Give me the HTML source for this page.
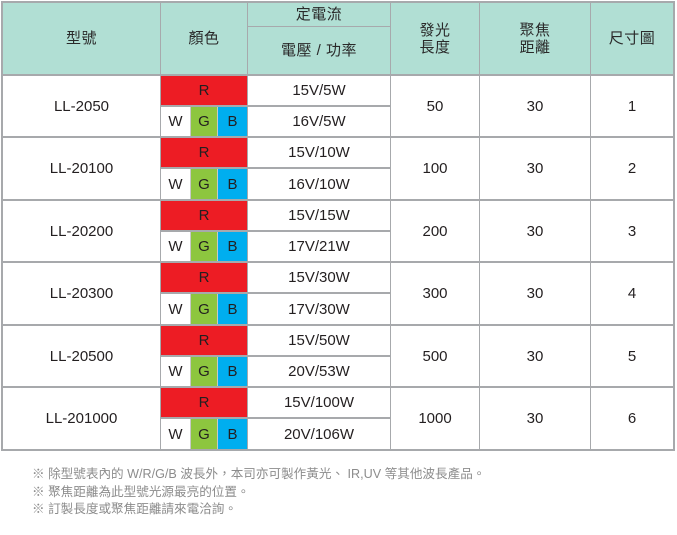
<!DOCTYPE html>
<html><head><meta charset="utf-8">
<style>
html,body{margin:0;padding:0;background:#fff;}
body{width:677px;height:535px;position:relative;overflow:hidden;font-family:"Liberation Sans","Noto Sans CJK TC",sans-serif;}
.c{position:absolute;display:flex;align-items:center;justify-content:center;font-size:15px;color:#231f20;text-align:center;line-height:17px;}
.hd{font-size:15px;letter-spacing:0.5px;color:#2a2a2a;}
.l{position:absolute;background:#a7a9ac;}
.r{background:#ed1c24;}
.g{background:#8dc63f;}
.b{background:#00aeef;}
.w{background:#fff;}
.sep{position:absolute;background:#c8c8c8;width:1px;}
.notes{position:absolute;left:32px;top:466px;font-size:12.6px;line-height:17.5px;color:#8c8c8c;font-family:"Liberation Sans","Noto Sans CJK TC",sans-serif;}
</style></head><body>
<!-- header bg -->
<div style="position:absolute;left:3px;top:3px;width:670px;height:71px;background:#b1dfd4;"></div>
<div class="c hd" style="left:3px;top:3px;width:157px;height:71px;">型號</div>
<div class="c hd" style="left:161px;top:3px;width:86px;height:71px;">顏色</div>
<div class="c hd" style="left:248px;top:3px;width:142px;height:23px;">定電流</div>
<div class="c hd" style="left:248px;top:27px;width:142px;height:47px;">電壓 / 功率</div>
<div class="c hd" style="left:391px;top:3px;width:88px;height:71px;">發光<br>長度</div>
<div class="c hd" style="left:480px;top:3px;width:110px;height:71px;">聚焦<br>距離</div>
<div class="c hd" style="left:591px;top:3px;width:82px;height:71px;">尺寸圖</div>
<div class="l" style="left:248px;top:26px;width:142px;height:1px;"></div>

<!-- row1 T=76 B=136 -->
<div class="c" style="left:3px;top:76px;width:157px;height:60px;">LL-2050</div>
<div class="c r" style="left:161px;top:76px;width:86px;height:29px;">R</div>
<div class="c w" style="left:161px;top:107px;width:29px;height:29px;">W</div>
<div class="c g" style="left:191px;top:107px;width:26px;height:29px;">G</div>
<div class="c b" style="left:218px;top:107px;width:29px;height:29px;">B</div>
<div class="sep" style="left:190px;top:107px;height:29px;"></div>
<div class="sep" style="left:217px;top:107px;height:29px;"></div>
<div class="c" style="left:248px;top:76px;width:142px;height:29px;">15V/5W</div>
<div class="c" style="left:248px;top:107px;width:142px;height:29px;">16V/5W</div>
<div class="l" style="left:161px;top:105px;width:229px;height:2px;"></div>
<div class="c" style="left:391px;top:76px;width:88px;height:60px;">50</div>
<div class="c" style="left:480px;top:76px;width:110px;height:60px;">30</div>
<div class="c" style="left:591px;top:76px;width:82px;height:60px;">1</div>

<!-- row2 T=138 B=199 -->
<div class="c" style="left:3px;top:138px;width:157px;height:61px;">LL-20100</div>
<div class="c r" style="left:161px;top:138px;width:86px;height:29px;">R</div>
<div class="c w" style="left:161px;top:169px;width:29px;height:30px;">W</div>
<div class="c g" style="left:191px;top:169px;width:26px;height:30px;">G</div>
<div class="c b" style="left:218px;top:169px;width:29px;height:30px;">B</div>
<div class="sep" style="left:190px;top:169px;height:30px;"></div>
<div class="sep" style="left:217px;top:169px;height:30px;"></div>
<div class="c" style="left:248px;top:138px;width:142px;height:29px;">15V/10W</div>
<div class="c" style="left:248px;top:169px;width:142px;height:30px;">16V/10W</div>
<div class="l" style="left:161px;top:167px;width:229px;height:2px;"></div>
<div class="c" style="left:391px;top:138px;width:88px;height:61px;">100</div>
<div class="c" style="left:480px;top:138px;width:110px;height:61px;">30</div>
<div class="c" style="left:591px;top:138px;width:82px;height:61px;">2</div>

<!-- row3 T=201 B=261 -->
<div class="c" style="left:3px;top:201px;width:157px;height:60px;">LL-20200</div>
<div class="c r" style="left:161px;top:201px;width:86px;height:29px;">R</div>
<div class="c w" style="left:161px;top:232px;width:29px;height:29px;">W</div>
<div class="c g" style="left:191px;top:232px;width:26px;height:29px;">G</div>
<div class="c b" style="left:218px;top:232px;width:29px;height:29px;">B</div>
<div class="sep" style="left:190px;top:232px;height:29px;"></div>
<div class="sep" style="left:217px;top:232px;height:29px;"></div>
<div class="c" style="left:248px;top:201px;width:142px;height:29px;">15V/15W</div>
<div class="c" style="left:248px;top:232px;width:142px;height:29px;">17V/21W</div>
<div class="l" style="left:161px;top:230px;width:229px;height:2px;"></div>
<div class="c" style="left:391px;top:201px;width:88px;height:60px;">200</div>
<div class="c" style="left:480px;top:201px;width:110px;height:60px;">30</div>
<div class="c" style="left:591px;top:201px;width:82px;height:60px;">3</div>

<!-- row4 T=263 B=324 -->
<div class="c" style="left:3px;top:263px;width:157px;height:61px;">LL-20300</div>
<div class="c r" style="left:161px;top:263px;width:86px;height:29px;">R</div>
<div class="c w" style="left:161px;top:294px;width:29px;height:30px;">W</div>
<div class="c g" style="left:191px;top:294px;width:26px;height:30px;">G</div>
<div class="c b" style="left:218px;top:294px;width:29px;height:30px;">B</div>
<div class="sep" style="left:190px;top:294px;height:30px;"></div>
<div class="sep" style="left:217px;top:294px;height:30px;"></div>
<div class="c" style="left:248px;top:263px;width:142px;height:29px;">15V/30W</div>
<div class="c" style="left:248px;top:294px;width:142px;height:30px;">17V/30W</div>
<div class="l" style="left:161px;top:292px;width:229px;height:2px;"></div>
<div class="c" style="left:391px;top:263px;width:88px;height:61px;">300</div>
<div class="c" style="left:480px;top:263px;width:110px;height:61px;">30</div>
<div class="c" style="left:591px;top:263px;width:82px;height:61px;">4</div>

<!-- row5 T=326 B=386 -->
<div class="c" style="left:3px;top:326px;width:157px;height:60px;">LL-20500</div>
<div class="c r" style="left:161px;top:326px;width:86px;height:29px;">R</div>
<div class="c w" style="left:161px;top:357px;width:29px;height:29px;">W</div>
<div class="c g" style="left:191px;top:357px;width:26px;height:29px;">G</div>
<div class="c b" style="left:218px;top:357px;width:29px;height:29px;">B</div>
<div class="sep" style="left:190px;top:357px;height:29px;"></div>
<div class="sep" style="left:217px;top:357px;height:29px;"></div>
<div class="c" style="left:248px;top:326px;width:142px;height:29px;">15V/50W</div>
<div class="c" style="left:248px;top:357px;width:142px;height:29px;">20V/53W</div>
<div class="l" style="left:161px;top:355px;width:229px;height:2px;"></div>
<div class="c" style="left:391px;top:326px;width:88px;height:60px;">500</div>
<div class="c" style="left:480px;top:326px;width:110px;height:60px;">30</div>
<div class="c" style="left:591px;top:326px;width:82px;height:60px;">5</div>

<!-- row6 T=388 B=449 -->
<div class="c" style="left:3px;top:388px;width:157px;height:61px;">LL-201000</div>
<div class="c r" style="left:161px;top:388px;width:86px;height:29px;">R</div>
<div class="c w" style="left:161px;top:419px;width:29px;height:30px;">W</div>
<div class="c g" style="left:191px;top:419px;width:26px;height:30px;">G</div>
<div class="c b" style="left:218px;top:419px;width:29px;height:30px;">B</div>
<div class="sep" style="left:190px;top:419px;height:30px;"></div>
<div class="sep" style="left:217px;top:419px;height:30px;"></div>
<div class="c" style="left:248px;top:388px;width:142px;height:29px;">15V/100W</div>
<div class="c" style="left:248px;top:419px;width:142px;height:30px;">20V/106W</div>
<div class="l" style="left:161px;top:417px;width:229px;height:2px;"></div>
<div class="c" style="left:391px;top:388px;width:88px;height:61px;">1000</div>
<div class="c" style="left:480px;top:388px;width:110px;height:61px;">30</div>
<div class="c" style="left:591px;top:388px;width:82px;height:61px;">6</div>

<!-- horizontal grid lines -->
<div class="l" style="left:1px;top:1px;width:674px;height:2px;"></div>
<div class="l" style="left:1px;top:74px;width:674px;height:2px;"></div>
<div class="l" style="left:1px;top:136px;width:674px;height:2px;"></div>
<div class="l" style="left:1px;top:199px;width:674px;height:2px;"></div>
<div class="l" style="left:1px;top:261px;width:674px;height:2px;"></div>
<div class="l" style="left:1px;top:324px;width:674px;height:2px;"></div>
<div class="l" style="left:1px;top:386px;width:674px;height:2px;"></div>
<div class="l" style="left:1px;top:449px;width:674px;height:2px;"></div>
<!-- vertical grid lines -->
<div class="l" style="left:1px;top:1px;width:2px;height:450px;"></div>
<div class="l" style="left:673px;top:1px;width:2px;height:450px;"></div>
<div class="l" style="left:160px;top:1px;width:1px;height:450px;"></div>
<div class="l" style="left:247px;top:1px;width:1px;height:450px;"></div>
<div class="l" style="left:390px;top:1px;width:1px;height:450px;"></div>
<div class="l" style="left:479px;top:1px;width:1px;height:450px;"></div>
<div class="l" style="left:590px;top:1px;width:1px;height:450px;"></div>

<div class="notes">
※ 除型號表內的 W/R/G/B 波長外，本司亦可製作黃光、 IR,UV 等其他波長產品。<br>
※ 聚焦距離為此型號光源最亮的位置。<br>
※ 訂製長度或聚焦距離請來電洽詢。
</div>
</body></html>
